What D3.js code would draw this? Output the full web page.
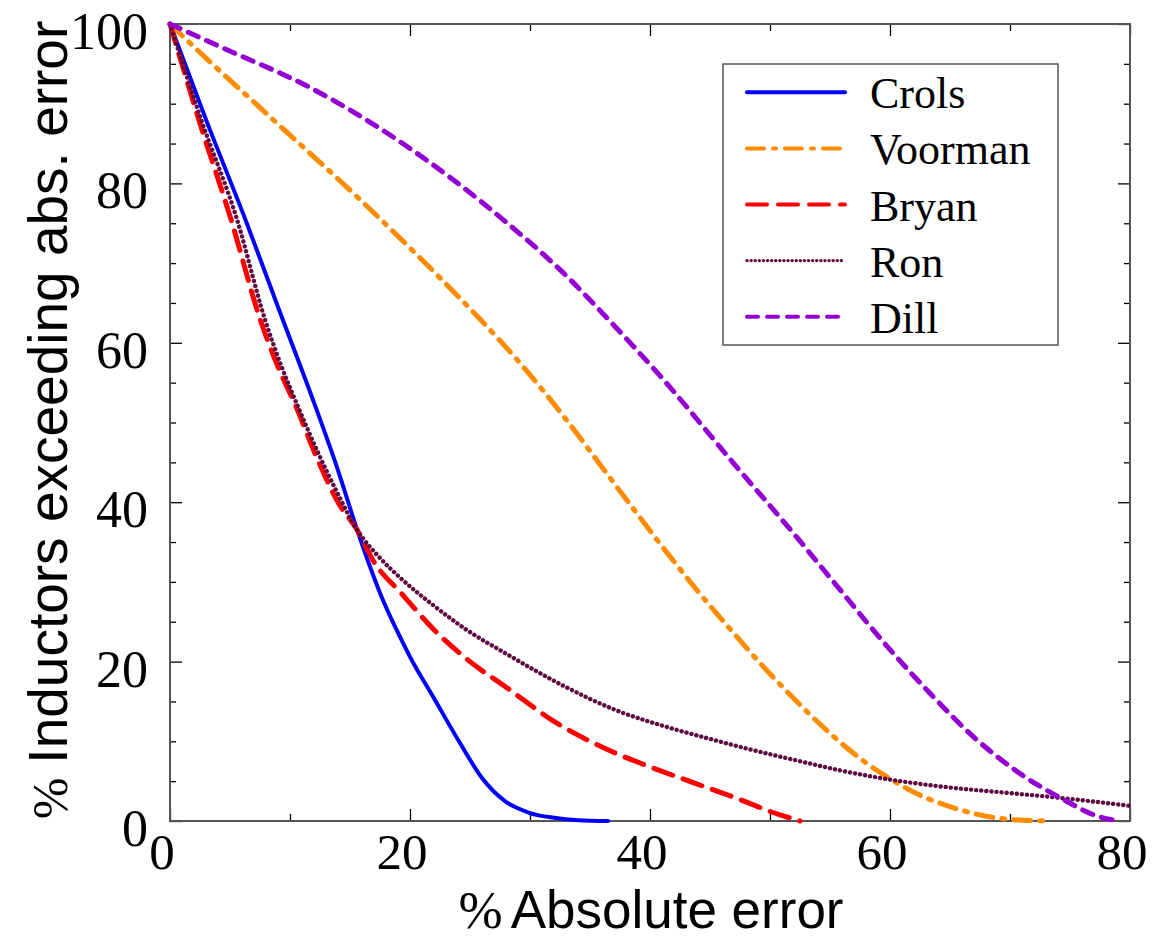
<!DOCTYPE html>
<html>
<head>
<meta charset="utf-8">
<script src="https://cdn.jsdelivr.net/npm/d3@7"></script>
<style>
  body { margin: 0; background: #fff; }
  svg { display: block; }
</style>
</head>
<body>
<svg id="chart" width="1153" height="941"></svg>
<script>
// data: x = % absolute error, y = % inductors exceeding it
let crolsX = [0, 3, 6.4, 9, 12, 14, 15.6, 17.75, 19.2, 20, 22, 24.2, 26, 28, 30, 32, 34, 36.5];
let crolsY = [100, 88, 75, 64.5, 52.5, 44, 36.5, 27.7, 23, 20.6, 15.4, 9.7, 5.4, 2.4, 1, 0.4, 0.1, 0];

let voormanX = [0, 2.8, 8.3, 15.6, 20, 22.2, 26, 29.2, 33.1, 35.8, 38.6, 41.4, 44, 46.9, 49, 51.9, 55, 58, 60, 62, 65, 68, 70, 73.3];
let voormanY = [100, 96, 88.4, 78.3, 71.9, 68.6, 62.7, 57.4, 50.2, 44.8, 39.2, 33.7, 28.8, 23.7, 20.1, 15.5, 11, 7.3, 5.3, 3.6, 1.8, 0.6, 0.2, 0];

let bryanX = [0, 2.4, 5.1, 7.5, 9, 10.5, 12.2, 14, 15.6, 17, 19.2, 22, 25, 28, 32, 36.4, 40, 44, 48, 50, 52.5];
let bryanY = [100, 88, 75.4, 63, 57, 52, 45.7, 40, 36.5, 32.5, 28.7, 24, 20, 16.8, 12.5, 9, 6.8, 4.6, 2.4, 1.2, 0];

let ronX = [0, 2.6, 5.6, 7.9, 9.3, 10.8, 12.4, 14, 15.6, 17.5, 19.2, 22, 24.7, 28, 33, 37, 41.4, 45, 48.3, 52.5, 56, 60, 65, 70, 74.2, 80];
let ronY = [100, 88, 75.4, 63, 57, 51.5, 46, 41, 36.5, 33, 30.5, 27, 24, 21, 16.8, 14, 11.8, 10.3, 9, 7.5, 6.3, 5.2, 4.2, 3.5, 2.9, 1.9];

let dillX = [0, 4.4, 11.7, 19.4, 27.8, 33.3, 35.8, 41.1, 46.9, 52.4, 55.3, 60, 63.6, 67, 70.6, 74.2, 77.5, 79.2];
let dillY = [100, 97, 92, 85, 75.4, 68, 64.1, 55.4, 45, 35.3, 30, 21.5, 15.6, 10.5, 6.2, 2.9, 0.5, 0];

let seriesNames = ["Crols", "Voorman", "Bryan", "Ron", "Dill"];
let seriesX = [crolsX, voormanX, bryanX, ronX, dillX];
let seriesY = [crolsY, voormanY, bryanY, ronY, dillY];
let seriesColors = ["#0000ff", "#ff8c00", "#ff0000", "#5e0b42", "#9400d3"];
let seriesDash = ["none", "17,9,3,9", "20,11", "0.1,5", "11,9"];

let xTicks = [0, 20, 40, 60, 80];
let yTicks = [0, 20, 40, 60, 80, 100];

let svg = d3.select("#chart");

let margin = {left: 170, top: 24, right: 1130, bottom: 821};

let x = d3.scaleLinear().domain([0, 80]).range([margin.left, margin.right]);
let y = d3.scaleLinear().domain([0, 100]).range([margin.bottom, margin.top]);

let serif = "'Liberation Serif', 'DejaVu Serif', serif";
let sans = "'Liberation Sans', Arial, sans-serif";

// ticks, pointing inward on all four sides
function tickAxis(axis, size, values, transform) {
    let g = svg.append("g")
        .attr("transform", transform)
        .call(axis.tickValues(values).tickSize(size).tickFormat(""));
    g.select(".domain").remove();
    g.selectAll("line").attr("stroke", "#000").attr("stroke-width", 1.3);
}
let xMinor = d3.range(10, 80, 20);
let yMinor = d3.range(5, 100, 5).filter(d => d % 20 != 0);
tickAxis(d3.axisBottom(x), -12, xTicks, `translate(0,${margin.bottom})`);
tickAxis(d3.axisBottom(x), -7, xMinor, `translate(0,${margin.bottom})`);
tickAxis(d3.axisTop(x), -12, xTicks, `translate(0,${margin.top})`);
tickAxis(d3.axisTop(x), -7, xMinor, `translate(0,${margin.top})`);
tickAxis(d3.axisLeft(y), -12, yTicks, `translate(${margin.left},0)`);
tickAxis(d3.axisLeft(y), -6, yMinor, `translate(${margin.left},0)`);
tickAxis(d3.axisRight(y), -12, yTicks, `translate(${margin.right},0)`);
tickAxis(d3.axisRight(y), -6, yMinor, `translate(${margin.right},0)`);

// frame
svg.append("rect")
    .attr("x", margin.left).attr("y", margin.top)
    .attr("width", margin.right - margin.left)
    .attr("height", margin.bottom - margin.top)
    .attr("fill", "none").attr("stroke", "#555").attr("stroke-width", 2);

// tick labels
svg.append("g").selectAll("text")
    .data(xTicks).join("text")
    .attr("x", d => x(d) - 8)
    .attr("y", margin.bottom + 48)
    .attr("text-anchor", "middle")
    .attr("font-family", serif).attr("font-size", 51)
    .text(d => d);

svg.append("g").selectAll("text")
    .data(yTicks).join("text")
    .attr("x", margin.left - 22)
    .attr("y", d => y(d) + 25)
    .attr("text-anchor", "end")
    .attr("font-family", serif).attr("font-size", 52)
    .text(d => d);

// axis titles
let xTitle = svg.append("text")
    .attr("x", 651).attr("y", 928)
    .attr("text-anchor", "middle").attr("font-size", 53);
xTitle.append("tspan").attr("font-family", serif).attr("font-size", 53).text("%");
xTitle.append("tspan").attr("font-family", sans).attr("dx", 8).text("Absolute error");

let yTitle = svg.append("text")
    .attr("transform", "translate(67,420) rotate(-90)")
    .attr("text-anchor", "middle").attr("font-size", 55);
yTitle.append("tspan").attr("font-family", serif).attr("font-size", 50).text("%");
yTitle.append("tspan").attr("font-family", sans).attr("dx", 14).text("Inductors exceeding abs. error");

// curves
let line = d3.line()
    .x(d => x(d[0]))
    .y(d => y(d[1]))
    .curve(d3.curveMonotoneX);

seriesNames.forEach((name, i) => {
    let pts = seriesX[i].map((v, j) => [v, seriesY[i][j]]);
    svg.append("path")
        .datum(pts)
        .attr("d", line)
        .attr("fill", "none")
        .attr("stroke", seriesColors[i])
        .attr("stroke-width", i == 0 ? 4 : (i == 3 ? 4.4 : 5))
        .attr("stroke-linecap", "round")
        .attr("stroke-linejoin", "round")
        .attr("stroke-dasharray", seriesDash[i]);
});

// legend
let legend = svg.append("g");
legend.append("rect")
    .attr("x", 723).attr("y", 64)
    .attr("width", 335).attr("height", 281)
    .attr("fill", "#fff").attr("stroke", "#555").attr("stroke-width", 1.5);

let rows = legend.selectAll("g.row")
    .data(seriesNames).join("g")
    .attr("class", "row")
    .attr("transform", (d, i) => `translate(0,${92.3 + i * 56.1})`);
rows.append("line")
    .attr("x1", 747).attr("x2", 845)
    .attr("stroke", (d, i) => seriesColors[i])
    .attr("stroke-width", (d, i) => i == 3 ? 3.4 : 4)
    .attr("stroke-linecap", "round")
    .attr("stroke-dasharray", (d, i) => i == 3 ? "0.1,4" : seriesDash[i]);
rows.append("text")
    .attr("x", 870).attr("y", 16)
    .attr("font-family", serif).attr("font-size", 44)
    .text(d => d);
</script>
</body>
</html>
